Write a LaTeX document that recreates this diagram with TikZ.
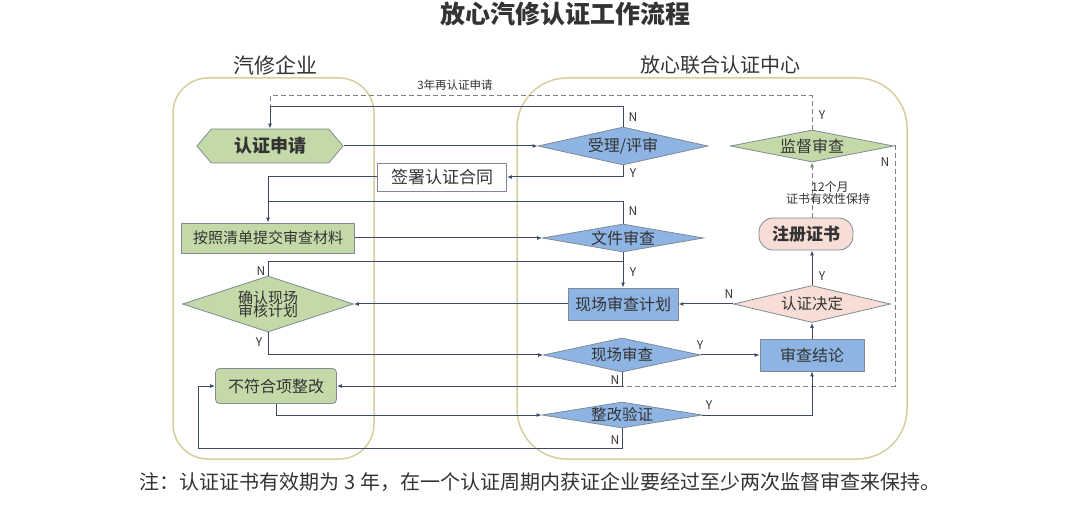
\documentclass[tikz,border=0pt]{standalone}
\usepackage{fontspec}
\setmainfont{Noto Sans CJK SC}
\usetikzlibrary{shapes.geometric,shapes.symbols,arrows.meta}
\definecolor{gfill}{HTML}{C4D9A8}
\definecolor{bfill}{HTML}{8EB4E3}
\definecolor{pfill}{HTML}{F7DDD5}
\definecolor{lanec}{HTML}{D6CE9C}
\definecolor{lnc}{HTML}{3F4A68}
\definecolor{edgec}{HTML}{7F8A96}
\definecolor{txtc}{HTML}{333333}
\newcommand{\fs}[1]{\fontsize{#1}{#1}\selectfont}
\begin{document}
\begin{tikzpicture}[x=1pt,y=-1pt,
  every node/.style={text=txtc},
  dia/.style={diamond, draw=edgec, line width=0.8pt, inner sep=0pt, font=\fs{15.5}},
  boxn/.style={rectangle, draw=edgec, line width=0.8pt, inner sep=0pt, font=\fs{16}},
  arr/.style={draw=lnc, line width=1pt, -{Latex[length=5pt,width=4pt]}},
  lnn/.style={draw=lnc, line width=1pt},
  dsh/.style={draw=gray, line width=1pt, dash pattern=on 5pt off 3pt},
  lab/.style={font=\fs{12}, text=txtc, inner sep=1pt},
  lane/.style={draw=lanec, line width=1.5pt}
]
\useasboundingbox (0,0) rectangle (1080,505);
% title and lanes
\node[font=\fs{25}\bfseries] (title) at (565,14) {放心汽修认证工作流程};
\node[font=\fs{21}] (lanel) at (275,65) {汽修企业};
\node[font=\fs{20}] (laner) at (720,65) {放心联合认证中心};
\draw[lane, rounded corners=35pt] (173,78) rectangle (374,459);
\draw[lane, rounded corners=50pt] (517,78) rectangle (907,459);

% left nodes
\node[signal, signal to=east and west, signal pointer angle=100, draw=edgec, line width=0.8pt, fill=gfill,
      minimum width=146pt, minimum height=34pt, inner sep=0pt, font=\fs{18}\bfseries] (apply) at (270,146) {认证申请};
\node[boxn, fill=white, minimum width=129pt, minimum height=28pt, font=\fs{17}] (sign) at (442,177) {签署认证合同};
\node[boxn, fill=gfill, minimum width=173pt, minimum height=30pt, font=\fs{15}] (submit) at (268,238) {按照清单提交审查材料};
\node[dia, fill=gfill, shape aspect=3.05, minimum width=171pt, minimum height=56pt, align=center, font=\fs{15}] (queren) at (268,304) {确认现场\\[-2pt]审核计划};
\node[boxn, fill=gfill, rounded corners=4pt, minimum width=121pt, minimum height=35pt] (buhege) at (276,386) {不符合项整改};

% right nodes
\node[dia, fill=bfill, shape aspect=4.5, minimum width=170pt, minimum height=38pt, font=\fs{16}] (shouli) at (623,146) {受理/评审};
\node[dia, fill=gfill, shape aspect=5.1, minimum width=163pt, minimum height=32pt, font=\fs{16}] (jiandu) at (812,146) {监督审查};
\node[dia, fill=bfill, shape aspect=5.75, minimum width=161pt, minimum height=28pt, font=\fs{16}] (wenjian) at (623,238) {文件审查};
\node[rectangle, rounded corners=14pt, draw=edgec, line width=0.8pt, fill=pfill, minimum width=94pt, minimum height=32pt,
      inner sep=0pt, font=\fs{17}\bfseries] (zhuce) at (806,234) {注册证书};
\node[boxn, fill=bfill, minimum width=110pt, minimum height=32pt] (plan) at (623,304) {现场审查计划};
\node[dia, fill=pfill, shape aspect=4.2, minimum width=157pt, minimum height=37pt] (jueding) at (812,304) {认证决定};
\node[dia, fill=bfill, shape aspect=4.6, minimum width=157pt, minimum height=34pt] (xianchang) at (622,355) {现场审查};
\node[boxn, fill=bfill, minimum width=104pt, minimum height=32pt] (jielun) at (812,355) {审查结论};
\node[dia, fill=bfill, shape aspect=6.15, minimum width=160pt, minimum height=26pt] (zhenggai) at (622,415) {整改验证};

% helper coordinates
\coordinate (t1) at (270,96);
\coordinate (t2) at (270,107);
\coordinate (c6) at (268,202);
\coordinate (c8) at (623,262);
\coordinate (c16) at (622,386);
\coordinate (c16b) at (895,146);
\coordinate (c19) at (198,448);

% connectors
\draw[dsh] (jiandu.north) |- (t1) -- (t2);
\draw[arr] (shouli.north) |- (t2) -- (apply.north);
\draw[arr] (apply.east) -- (shouli.west);
\draw[arr] (shouli.south) |- (sign.east);
\draw[arr] (sign.west) -| (submit.north);
\draw[lnn] (wenjian.north) |- (c6);
\draw[arr] (submit.east) -- (wenjian.west);
\draw[arr] (wenjian.south) -- (plan.north);
\draw[lnn] (queren.north) |- (c8);
\draw[arr] (plan.west) -- (queren.east);
\draw[arr] (queren.south) |- (xianchang.west);
\draw[arr] (xianchang.east) -- (jielun.west);
\draw[arr] (jielun.north) -- (jueding.south);
\draw[arr] (jueding.north) -- (jueding.north |- zhuce.south);
\draw[arr] (jueding.west) -- (plan.east);
\draw[dsh, -{Latex[length=5pt,width=4pt]}] (jiandu.south |- zhuce.north) -- (jiandu.south);
\draw[dsh] (jiandu.east) -- (c16b) |- (c16);
\draw[arr] (xianchang.south) |- (buhege.east);
\draw[arr] (buhege.south) |- (zhenggai.west);
\draw[arr] (zhenggai.east) -| (jielun.south);
\draw[arr] (zhenggai.south) |- (c19) |- (buhege.west);

% labels
\node[lab, font=\fs{11.5}] (l3y) at (455,85) {3年再认证申请};
\node[lab] (ly1) at (822,115) {Y};
\node[lab] (ln1) at (633,117) {N};
\node[lab] (ly2) at (633,173) {Y};
\node[lab] (ln2) at (633,211) {N};
\node[lab] (ly3) at (633,272) {Y};
\node[lab] (ln3) at (261,271) {N};
\node[lab] (ly4) at (259,342) {Y};
\node[lab] (ly5) at (700,345) {Y};
\node[lab] (ly6) at (822,276) {Y};
\node[lab] (ln6) at (729,294) {N};
\node[lab] (ln7) at (885,162) {N};
\node[lab] (ln8) at (615,380) {N};
\node[lab] (ly9) at (709,405) {Y};
\node[lab] (ln9) at (615,440) {N};
\node[lab, align=center] (l12) at (828,193) {\hspace*{4pt}12个月\\证书有效性保持};

% footnote
\node[font=\fs{20}] (note) at (540,482) {注：认证证书有效期为 3 年，在一个认证周期内获证企业要经过至少两次监督审查来保持。};
\end{tikzpicture}
\end{document}
